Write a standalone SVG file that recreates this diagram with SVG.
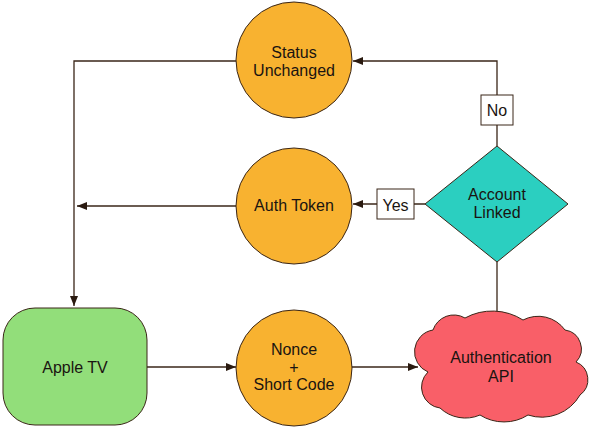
<svg xmlns="http://www.w3.org/2000/svg" width="598" height="427" viewBox="0 0 598 427">
<style>
text{font-family:"Liberation Sans",Arial,sans-serif;font-size:16px;fill:#1a1410;text-anchor:middle}
.c{fill:#F8B230;stroke:#3a2618;stroke-width:1}
.ln{fill:none;stroke:#3a2618;stroke-width:1.3}
.lbl{fill:#fff;stroke:#3a2618;stroke-width:1}
</style>
<defs>
<marker id="ah" viewBox="0 0 10 8" refX="10" refY="4" markerWidth="10" markerHeight="8" markerUnits="userSpaceOnUse" orient="auto">
<path d="M0,0 L10,4 L0,8 Z" fill="#2a1a10"/>
</marker>
</defs>
<rect width="598" height="427" fill="#fff"/>
<g id="connectors">
<path class="ln" d="M236,61 H74 V306" marker-end="url(#ah)"/>
<path class="ln" d="M236,206 H77" marker-end="url(#ah)"/>
<path class="ln" d="M497,146 V61 H353" marker-end="url(#ah)"/>
<path class="ln" d="M425,204 H353" marker-end="url(#ah)"/>
<path class="ln" d="M147,367 H236" marker-end="url(#ah)"/>
<path class="ln" d="M352,367 H418" marker-end="url(#ah)"/>
<path class="ln" d="M497,313 V262"/>
<g id="label-no"><rect class="lbl" x="481" y="95" width="32" height="30"/><text x="497" y="116">No</text></g>
<g id="label-yes"><rect class="lbl" x="377" y="189" width="37" height="30"/><text x="395.5" y="211">Yes</text></g>
</g>
<g id="status-unchanged">
<circle class="c" cx="294" cy="60" r="58"/>
<text x="294" y="58">Status</text><text x="294" y="76">Unchanged</text>
</g>
<g id="auth-token">
<circle class="c" cx="294" cy="206" r="58"/>
<text x="294" y="211">Auth Token</text>
</g>
<g id="nonce">
<circle class="c" cx="294" cy="368" r="58"/>
<text x="294" y="355">Nonce</text><text x="294" y="373">+</text><text x="294" y="390">Short Code</text>
</g>
<g id="apple-tv">
<rect x="3" y="308" width="144" height="117" rx="32" ry="32" fill="#92DE7A" stroke="#3a2618" stroke-width="1"/>
<text x="75" y="373">Apple TV</text>
</g>
<g id="account-linked">
<path d="M497,146 L568,204 L497,262 L425,204 Z" fill="#2BCFC0" stroke="#3a2618" stroke-width="1"/>
<text x="497" y="200">Account</text><text x="497" y="218">Linked</text>
</g>
<g id="authentication-api">
<path d="M428,372 A22,22 0 0 1 433,330 A22,22 0 0 1 465,318 A57,57 0 0 1 523,320 A33,33 0 0 1 565,330 A19,19 0 0 1 576,362 A19,19 0 0 1 580,395 A44,44 0 0 1 528,415 A45,45 0 0 1 480,415 A37,37 0 0 1 440,408 A21,21 0 0 1 428,372 Z" fill="#F95F68" stroke="#3a2618" stroke-width="1"/>
<text x="501" y="363">Authentication</text><text x="501" y="382">API</text>
</g>
</svg>
